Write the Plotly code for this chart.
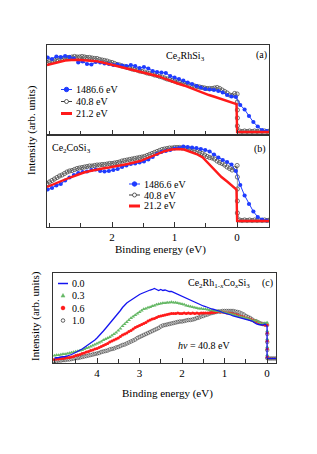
import numpy as np
import plotly.graph_objects as go

# ---------------- data (arb. units) ----------------
# Panel (a) Ce2RhSi3 and (b) Ce2CoSi3 : binding energy grids
E_black_ab = np.linspace(3.04, 0.0, 77)
E_blue_ab = np.linspace(3.03, -0.47, 51)
E_red_ab = [3.04, 2.95, 2.85, 2.75, 2.65, 2.55, 2.45, 2.35, 2.25, 2.15, 2.05, 1.95, 1.85, 1.75, 1.65,
            1.55, 1.45, 1.35, 1.25, 1.15, 1.05, 0.95, 0.85, 0.75, 0.65, 0.55, 0.45, 0.35, 0.25, 0.15,
            0.05, 0.01, 0.0, -0.51]
E_edge_ab = [-0.004, -0.004, -0.004, -0.004, -0.04, -0.08, -0.12, -0.16, -0.2, -0.24, -0.28, -0.32,
             -0.36, -0.4, -0.44, -0.48, -0.52]

a_408 = [72.5, 73.5, 74, 75, 75.5, 76.5, 76.5, 77, 77.5, 77.5,
         78, 78.5, 78, 78, 78.5, 78, 77.5, 77.5, 77, 76.5,
         76.5, 75.5, 75, 74.5, 74, 73, 72.5, 71.5, 70.5, 70,
         69, 68.5, 67.5, 67, 66, 65.5, 65, 64, 63.5, 63,
         62, 61.5, 61, 60, 59.5, 58.5, 58, 57, 56, 55.5,
         54.5, 54, 53, 52.5, 51.5, 51, 50.5, 50, 49.5, 49,
         48.5, 48, 47.5, 47, 46.5, 46.5, 46.5, 47, 47.5, 46.5,
         45, 43.5, 42, 40, 39.5, 41.5, 41]
a_408_edge = [33, 25, 17, 9, 4, 3.5, 4, 3.5, 4, 3.5, 4, 3.5, 4, 3.5, 4, 3.5, 4]
a_1486 = [77.5, 76, 78.5, 78, 79, 78, 76.5, 72.5, 73.5, 71,
          70.5, 73, 72.5, 71.5, 71, 70, 70.5, 69.5, 69, 70,
          69, 67, 68, 66.5, 64, 63, 62.5, 62, 59, 57.5,
          56, 54.5, 52.5, 51, 49, 47.5, 46, 45.5, 45, 44,
          42.5, 40, 38.5, 38, 30, 25.5, 19, 13, 8.5, 5, 4]
a_212 = [70, 71.5, 73, 74.5, 75, 75.3, 74.8, 74.3, 73.8, 72.5, 71, 69.5, 68, 66, 64.5,
         63.5, 62, 60, 58.5, 56, 53.5, 51.5, 49.5, 47, 45, 42.5, 40, 38, 36, 34,
         32, 31, 3, 3]

b_408 = [43.5, 45, 46.5, 48, 49.5, 51, 52, 53.5, 55, 56,
         56.5, 57.5, 58.5, 59, 59.5, 60, 60.5, 61, 61, 61.5,
         62, 62, 62.5, 62.5, 63, 63.5, 63.5, 64, 64.5, 65,
         66, 66.5, 67, 67.5, 68, 68.5, 69, 69.5, 70, 70.5,
         71.5, 72.5, 73.5, 74.5, 75.5, 76.5, 77.5, 78, 78.5, 79,
         79, 79.5, 79.5, 79.5, 79, 79, 78.5, 78, 77.5, 76.5,
         75.5, 74.5, 73.5, 72, 70.5, 69.5, 69, 68, 66, 64.5,
         63.5, 62, 60, 58.5, 57, 58.5, 61.5]
b_408_edge = [50, 38, 26, 14, 7, 6.5, 7, 6.5, 7, 6.5, 7, 6.5, 7, 6.5, 7, 6.5, 7]
b_1486 = [37.5, 39, 41.5, 43, 46.5, 49.5, 52, 54, 55, 55.5,
          57, 57.5, 56, 55.5, 56, 57, 58, 60, 61.5, 63,
          63.5, 64.5, 65.5, 67.5, 70, 73, 75, 76, 77, 78.5,
          79, 80.5, 80, 79.5, 79, 78, 77, 75.5, 72.5, 69.5,
          67, 65, 62.5, 56, 42, 31.5, 23, 15.5, 10, 7.5, 6.5]
b_212 = [40, 42.5, 45, 47.5, 50, 52.5, 54.5, 56, 57.5, 58.5, 59.5, 60.5, 61.5, 63, 64.5,
         66, 68.5, 71, 74, 76, 77.5, 78, 77.5, 75.5, 73, 69.5, 63, 56, 50, 45,
         40, 37.5, 6, 6]

# Panel (c) Ce2Rh(1-x)CoxSi3, hv = 40.8 eV
E_c = np.linspace(5.0, 0.0, 101)
E_c_edge = [-0.004, -0.004, -0.004, -0.004, -0.05, -0.1, -0.15, -0.2]
c_x00 = [5, 5, 5.5, 6, 6, 6.5, 7, 7.5, 8.5, 9.5,
         10.5, 11.5, 12.5, 14, 15.5, 17, 18, 19.5, 21, 23,
         25, 27, 29.5, 32, 34.5, 37, 39.5, 41.5, 44, 47,
         50, 52.5, 55.5, 58, 60, 61.5, 63, 64.5, 66, 67,
         68.5, 69.5, 70.5, 71.5, 72.5, 73, 73.5, 74.5, 73.5, 72.5,
         73.5, 72.5, 73, 72, 71.5, 71.5, 70.5, 70, 69, 68,
         67, 66, 65, 64, 63, 62, 61, 60, 58.5, 58,
         57, 56.5, 55.5, 55, 54, 53.5, 53, 52, 51.5, 50.5,
         50, 49, 48.5, 48, 47, 46.5, 45.5, 45, 44.5, 44,
         43.5, 43, 42.5, 42, 40.5, 39, 38.5, 38, 38, 39,
         37]
c_x00_edge_E = [0.0, -0.21]
c_x00_edge = [4.5, 4.5]
c_x03 = [7.5, 8, 8, 8.5, 9, 9, 9.5, 10, 10.5, 11,
         11.5, 12, 12.5, 13, 14, 15, 15.5, 16.5, 17.5, 18.5,
         19.5, 20.5, 21.5, 23, 24, 25, 26, 27.5, 29, 30.5,
         32.5, 34.5, 37, 39, 41, 43, 45, 46.5, 48, 49.5,
         51, 52.5, 54, 54.5, 55.5, 56, 57, 57.5, 58.5, 59,
         59.5, 60, 60, 60.5, 60.5, 61, 60.5, 60.5, 60, 59.5,
         59, 58.5, 57.5, 57, 56.5, 56, 55.5, 55, 54.5, 54.5,
         54, 54, 53.5, 53, 53, 52.5, 52, 52, 51.5, 51,
         50.5, 50, 49.5, 49, 48.5, 48, 47, 46.5, 46, 45.5,
         45, 44.5, 43.5, 42.5, 42.5, 42.5, 41, 39.5, 39, 40,
         40.5]
c_x03_edge = [32, 24, 16, 8, 4.5, 4.5, 4.5, 4.5]
c_x06 = [3.5, 4, 4, 4.5, 4.5, 5, 5.5, 5.5, 6, 6.5,
         7.5, 8, 8.5, 9.5, 10, 11, 11.5, 12.5, 13, 14,
         14.5, 15.5, 16.5, 17.5, 18.5, 19.5, 21, 22, 23, 24,
         25, 26.5, 28, 29, 30, 31.5, 32.5, 34, 35.5, 36.5,
         37.5, 38.5, 39.5, 40.5, 42, 43, 44, 44.5, 45.5, 46.5,
         47, 47.5, 48, 48.5, 49, 49.5, 49.5, 49.5, 50, 49.5,
         49.5, 50, 49.5, 50, 49.5, 50, 49.5, 50, 49.5, 50,
         50, 50, 50, 50, 50.5, 50.5, 51, 51.5, 51, 51,
         50.5, 50, 50, 49.5, 49, 48.5, 48, 47, 46.5, 46,
         45, 44.5, 44, 43, 42.5, 41.5, 40.5, 39.5, 38.5, 38,
         38]
c_x06_edge = [30, 22, 14, 6, 4.5, 4.5, 4.5, 4.5]
c_x10 = [2, 2, 2.5, 2.5, 3, 3, 3.5, 3.5, 4, 4.5,
         5, 5, 5.5, 6, 6.5, 7, 7.5, 8, 8.5, 9,
         9.5, 10, 11, 11.5, 12, 12.5, 13.5, 14, 14.5, 15.5,
         16, 17, 18, 18.5, 19.5, 20.5, 21.5, 22.5, 23.5, 25,
         26, 27, 28, 29, 30, 31, 32, 33, 34, 35,
         36.5, 37.5, 38, 38.5, 39, 39.5, 40, 40.5, 41, 41.5,
         41.5, 42, 42.5, 43, 43, 43.5, 44, 45, 45.5, 46.5,
         47, 48, 48.5, 49.5, 50, 50.5, 51, 51.5, 51.5, 52,
         52, 52, 52, 52, 52, 51.5, 51, 50.5, 49.5, 48.5,
         47, 46, 45, 43.5, 42, 41.5, 40.5, 39.5, 39, 38.5,
         38]
c_x10_edge = [29, 21, 13, 5, 4.5, 4.5, 4.5, 4.5]

ticks_ab = [2, 1, 0]
ticks_c = [4, 3, 2, 1, 0]
legend_ab = ["1486.6 eV", "40.8 eV", "21.2 eV"]
legend_c = ["0.0", "0.3", "0.6", "1.0"]

# ---------------- styling ----------------
# page body has an 8 px default margin, so the figure is drawn 8 px in from the window edge
OFF = 8
W, H = 317 - OFF, 454 - OFF
FONT = "Liberation Serif"
BLUE = "#1f3cff"
RED = "#ff1a1a"
BLK = "#3a3a3a"
GRN = "#66b866"
CBLUE = "#1414f0"


def px(x):
    return (x - OFF) / W


def py(y):
    return 1 - (y - OFF) / H


fig = go.Figure()

# panel (a)
fig.add_trace(go.Scatter(x=list(E_black_ab) + E_edge_ab, y=a_408 + a_408_edge, xaxis="x", yaxis="y",
                         mode="lines+markers", line=dict(color=BLK, width=0.5),
                         marker=dict(symbol="circle-open", size=4.2, color=BLK, line=dict(width=0.7))))
fig.add_trace(go.Scatter(x=E_blue_ab, y=a_1486, xaxis="x", yaxis="y", mode="lines+markers",
                         line=dict(color=BLUE, width=1), marker=dict(size=4.2, color=BLUE)))
fig.add_trace(go.Scatter(x=E_red_ab, y=a_212, xaxis="x", yaxis="y", mode="lines",
                         line=dict(color=RED, width=2.4)))
# panel (b)
fig.add_trace(go.Scatter(x=list(E_black_ab) + E_edge_ab, y=b_408 + b_408_edge, xaxis="x2", yaxis="y2",
                         mode="lines+markers", line=dict(color=BLK, width=0.5),
                         marker=dict(symbol="circle-open", size=4.2, color=BLK, line=dict(width=0.7))))
fig.add_trace(go.Scatter(x=E_blue_ab, y=b_1486, xaxis="x2", yaxis="y2", mode="lines+markers",
                         line=dict(color=BLUE, width=1), marker=dict(size=4.2, color=BLUE)))
fig.add_trace(go.Scatter(x=E_red_ab, y=b_212, xaxis="x2", yaxis="y2", mode="lines",
                         line=dict(color=RED, width=2.4)))
# panel (c)
fig.add_trace(go.Scatter(x=list(E_c) + E_c_edge, y=c_x10 + c_x10_edge, xaxis="x3", yaxis="y3",
                         mode="markers",
                         marker=dict(symbol="circle-open", size=3.6, color="#3a3a3a", line=dict(width=0.6))))
fig.add_trace(go.Scatter(x=list(E_c) + E_c_edge, y=c_x06 + c_x06_edge, xaxis="x3", yaxis="y3",
                         mode="markers", marker=dict(symbol="circle", size=3.2, color=RED)))
fig.add_trace(go.Scatter(x=list(E_c) + E_c_edge, y=c_x03 + c_x03_edge, xaxis="x3", yaxis="y3",
                         mode="markers", marker=dict(symbol="triangle-up", size=3.6, color=GRN)))
fig.add_trace(go.Scatter(x=list(E_c) + c_x00_edge_E, y=c_x00 + c_x00_edge, xaxis="x3", yaxis="y3",
                         mode="lines", line=dict(color=CBLUE, width=1.3)))

axis_common = dict(showline=True, linecolor="#333333", linewidth=1.1, mirror=True,
                   showgrid=False, zeroline=False, ticks="inside", ticklen=5, tickwidth=1,
                   tickcolor="#333333", tickfont=dict(family=FONT, size=11, color="black"),
                   minor=dict(ticks="inside", ticklen=4, dtick=0.5, tickcolor="#333333", showgrid=False))
yaxis_common = dict(showline=True, linecolor="#333333", linewidth=1.1, mirror=True,
                    showgrid=False, zeroline=False, showticklabels=False, ticks="")

fig.update_layout(
    width=W, height=H, margin=dict(l=0, r=0, t=0, b=0),
    paper_bgcolor="white", plot_bgcolor="white", showlegend=False,
    font=dict(family=FONT, size=11, color="black"),
    xaxis=dict(axis_common, domain=[px(47), px(269)], range=[3.04, -0.51], anchor="y",
               tickmode="array", tickvals=ticks_ab, showticklabels=False),
    yaxis=dict(yaxis_common, domain=[py(135), py(45)], range=[0, 90], anchor="x"),
    xaxis2=dict(axis_common, domain=[px(47), px(269)], range=[3.04, -0.51], anchor="y2",
                tickmode="array", tickvals=ticks_ab, ticktext=[str(t) for t in ticks_ab],
                showticklabels=True),
    yaxis2=dict(yaxis_common, domain=[py(227), py(135)], range=[0, 92], anchor="x2"),
    xaxis3=dict(axis_common, domain=[px(53), px(276)], range=[5.035, -0.21], anchor="y3",
                tickmode="array", tickvals=ticks_c, ticktext=[str(t) for t in ticks_c],
                showticklabels=True),
    yaxis3=dict(yaxis_common, domain=[py(363), py(273)], range=[0, 90], anchor="x3"),
)

ann = []


def text(x, y, s, size=10, xanchor="left", angle=0):
    ann.append(dict(x=px(x), y=py(y), xref="paper", yref="paper", text=s, showarrow=False,
                    xanchor=xanchor, yanchor="middle", textangle=angle,
                    font=dict(family=FONT, size=size, color="black")))


# panel labels
text(164, 57, "Ce<sub>2</sub>RhSi<sub>3</sub>", 10)
text(261, 55, "(a)", 10, "center")
text(50, 148.5, "Ce<sub>2</sub>CoSi<sub>3</sub>", 10)
text(260, 149, "(b)", 10, "center")
text(186, 283, "Ce<sub>2</sub>Rh<sub>1-<i>x</i></sub>Co<sub><i>x</i></sub>Si<sub>3</sub>", 10)
text(267, 283, "(c)", 10, "center")
text(176, 345, "<i>hν</i> = 40.8 eV", 10)
# axis titles
text(160, 249, "Binding energy (eV)", 11, "center")
text(167, 393, "Binding energy (eV)", 11, "center")
text(31, 130, "Intensity (arb. units)", 11, "center", -90)
text(35, 316, "Intensity (arb. units)", 11, "center", -90)

shapes = []


def hline(x0, x1, y, color, w):
    shapes.append(dict(type="line", xref="paper", yref="paper", x0=px(x0), x1=px(x1),
                       y0=py(y), y1=py(y), line=dict(color=color, width=w)))


def circ(cx, cy, r, line, fill, w=1):
    shapes.append(dict(type="circle", xref="paper", yref="paper", x0=px(cx - r), x1=px(cx + r),
                       y0=py(cy + r), y1=py(cy - r), line=dict(color=line, width=w), fillcolor=fill))


def tri(cx, cy, r, color):
    path = "M {:.5f},{:.5f} L {:.5f},{:.5f} L {:.5f},{:.5f} Z".format(
        px(cx), py(cy - r), px(cx - r), py(cy + r * 0.8), px(cx + r), py(cy + r * 0.8))
    shapes.append(dict(type="path", xref="paper", yref="paper", path=path,
                       line=dict(color=color, width=0.5), fillcolor=color))


# legend (a)
rows_a = [89.5, 101.5, 113.5]
hline(61, 72, rows_a[0], BLUE, 1); circ(66.5, rows_a[0], 2.2, BLUE, BLUE)
hline(61, 72, rows_a[1], BLK, 1); circ(66.5, rows_a[1], 2.0, BLK, "white", 0.8)
hline(61, 72, rows_a[2], RED, 3)
for r, s in zip(rows_a, legend_ab):
    text(74, r, s, 10)
# legend (b)
rows_b = [184, 195, 206]
hline(129, 140, rows_b[0], BLUE, 1); circ(134.5, rows_b[0], 2.2, BLUE, BLUE)
hline(129, 140, rows_b[1], BLK, 1); circ(134.5, rows_b[1], 2.0, BLK, "white", 0.8)
hline(129, 140, rows_b[2], RED, 3)
for r, s in zip(rows_b, legend_ab):
    text(142, r, s, 10)
# legend (c)
rows_c = [283.5, 295.5, 308, 320.5]
hline(58, 68, rows_c[0], CBLUE, 1.5)
tri(63, rows_c[1], 2.0, GRN)
circ(63, rows_c[2], 1.8, RED, RED)
circ(63, rows_c[3], 1.8, BLK, "white", 0.8)
for r, s in zip(rows_c, legend_c):
    text(70, r, s, 10)

fig.update_layout(annotations=ann, shapes=shapes)
fig.write_html("out.html")
